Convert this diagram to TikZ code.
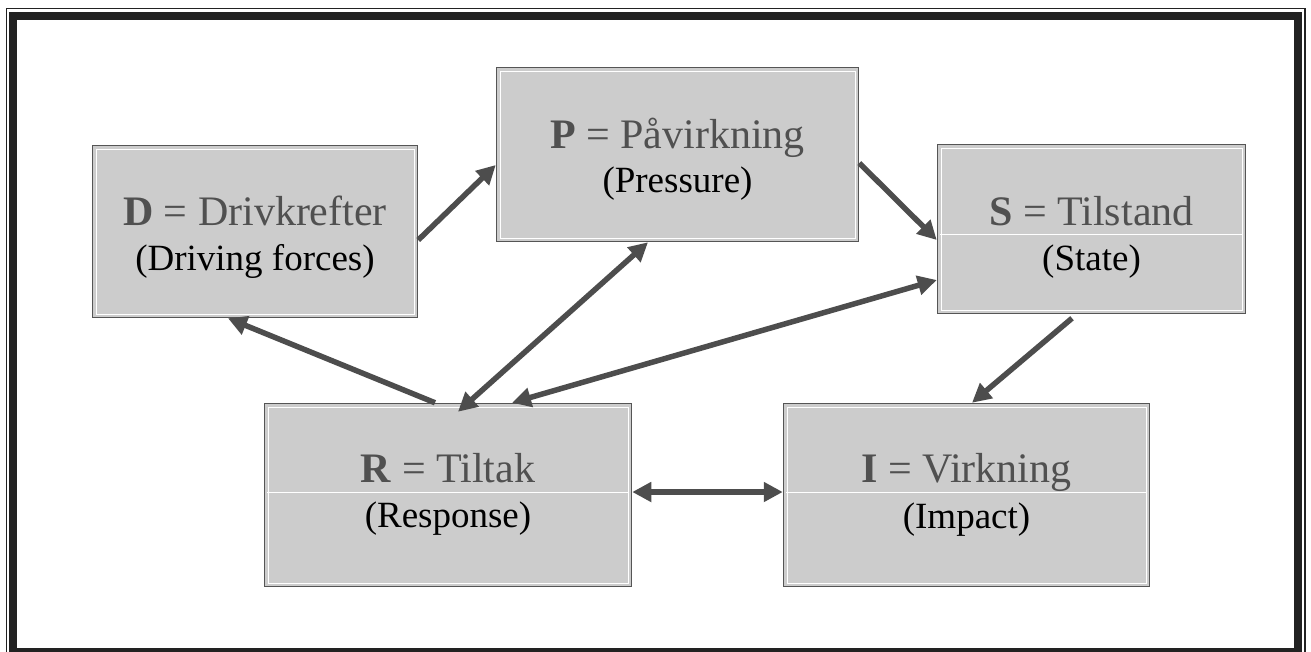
\documentclass[tikz,border=0pt]{standalone}
\usepackage{fontspec}
\setmainfont{Liberation Serif}
\usetikzlibrary{positioning,arrows.meta,calc}
\definecolor{boxfill}{HTML}{CCCCCC}
\definecolor{boxline}{HTML}{555555}
\definecolor{arrowgray}{HTML}{4D4D4D}
\definecolor{headgray}{HTML}{505050}
\definecolor{framecol}{HTML}{222222}
\tikzset{
  box/.style     = {rectangle, draw=boxline, line width=1.5pt, fill=boxfill, inner sep=0pt,
                    path picture={\draw[white, line width=1pt]
                      ([shift={(3.5pt,3.5pt)}]path picture bounding box.south west) rectangle
                      ([shift={(-3.5pt,-3.5pt)}]path picture bounding box.north east);}},
  divider/.style = {draw=white, line width=1pt},
  head/.style    = {font=\fontsize{42}{48}\selectfont, text=headgray, anchor=base, inner sep=0pt},
  sub/.style     = {font=\fontsize{37}{44}\selectfont, text=black, anchor=base, inner sep=0pt},
  edge/.style    = {draw=arrowgray, line width=5.5pt, -{Triangle[length=19pt,width=19pt]}},
  both/.style    = {edge, {Triangle[length=19pt,width=19pt]}-{Triangle[length=19pt,width=19pt]}},
  frame/.style   = {draw=framecol},
}

\begin{document}
\begin{tikzpicture}[x=1pt,y=-1pt]

  \useasboundingbox (0,0) rectangle (1311,651);

  % frame
  \draw[frame, line width=1.5pt] (6.5,8.5) rectangle (1305,670);
  \draw[frame, line width=8pt]   (13,15.5) rectangle (1298,651.5);

  % boxes
  \node[box, minimum width=325pt, minimum height=172pt] (D) at (255,231.5)   {};
  \node[box, minimum width=362pt, minimum height=174pt] (P) at (677.5,154.5) {};
  \node[box, minimum width=308pt, minimum height=169pt] (S) at (1091.5,229)  {};
  \node[box, minimum width=367pt, minimum height=183pt] (R) at (448,495)     {};
  \node[box, minimum width=366pt, minimum height=183pt] (I) at (966.5,495)   {};

  \draw[divider] ([xshift=3.5pt,yshift=-5pt]S.west) -- ([xshift=-3.5pt,yshift=-5pt]S.east);
  \draw[divider] ([xshift=3.5pt,yshift=3pt]R.west)  -- ([xshift=-3.5pt,yshift=3pt]R.east);
  \draw[divider] ([xshift=3.5pt,yshift=3pt]I.west)  -- ([xshift=-3.5pt,yshift=3pt]I.east);

  % texts
  \node[head] (Dh) at (255,225)    {\textbf{D} = Drivkrefter};
  \node[sub]  (Ds) at (255,270)    {(Driving forces)};
  \node[head] (Ph) at (677.5,148)  {\textbf{P} = Påvirkning};
  \node[sub]  (Ps) at (677.5,192)  {(Pressure)};
  \node[head] (Sh) at (1091.5,225) {\textbf{S} = Tilstand};
  \node[sub]  (Ss) at (1091.5,270) {(State)};
  \node[head] (Rh) at (448,482)    {\textbf{R} = Tiltak};
  \node[sub]  (Rs) at (448,527)    {(Response)};
  \node[head] (Ih) at (966.5,482)  {\textbf{I} = Virkning};
  \node[sub]  (Is) at (966.5,528)  {(Impact)};

  % connectors
  \draw[edge] ([yshift=-8.5pt]D.east) -- ([yshift=-10.5pt]P.west);
  \draw[edge] ([yshift=-8.5pt]P.east) -- ([yshift=-11pt]S.west);
  \draw[both] ([xshift=64pt]R.north) -- ([yshift=-51pt]S.west);
  \draw[both] ([xshift=10pt,yshift=-9pt]R.north) -- ([xshift=-29.5pt]P.south);
  \draw[edge] ([xshift=-13pt]R.north) -- ([xshift=-27pt]D.south);
  \draw[edge] ([xshift=-19.5pt,yshift=-4pt]S.south) -- ([xshift=5.5pt]I.north);
  \draw[both] ([yshift=3pt]R.east) -- ([yshift=3pt]I.west);

\end{tikzpicture}
\end{document}
